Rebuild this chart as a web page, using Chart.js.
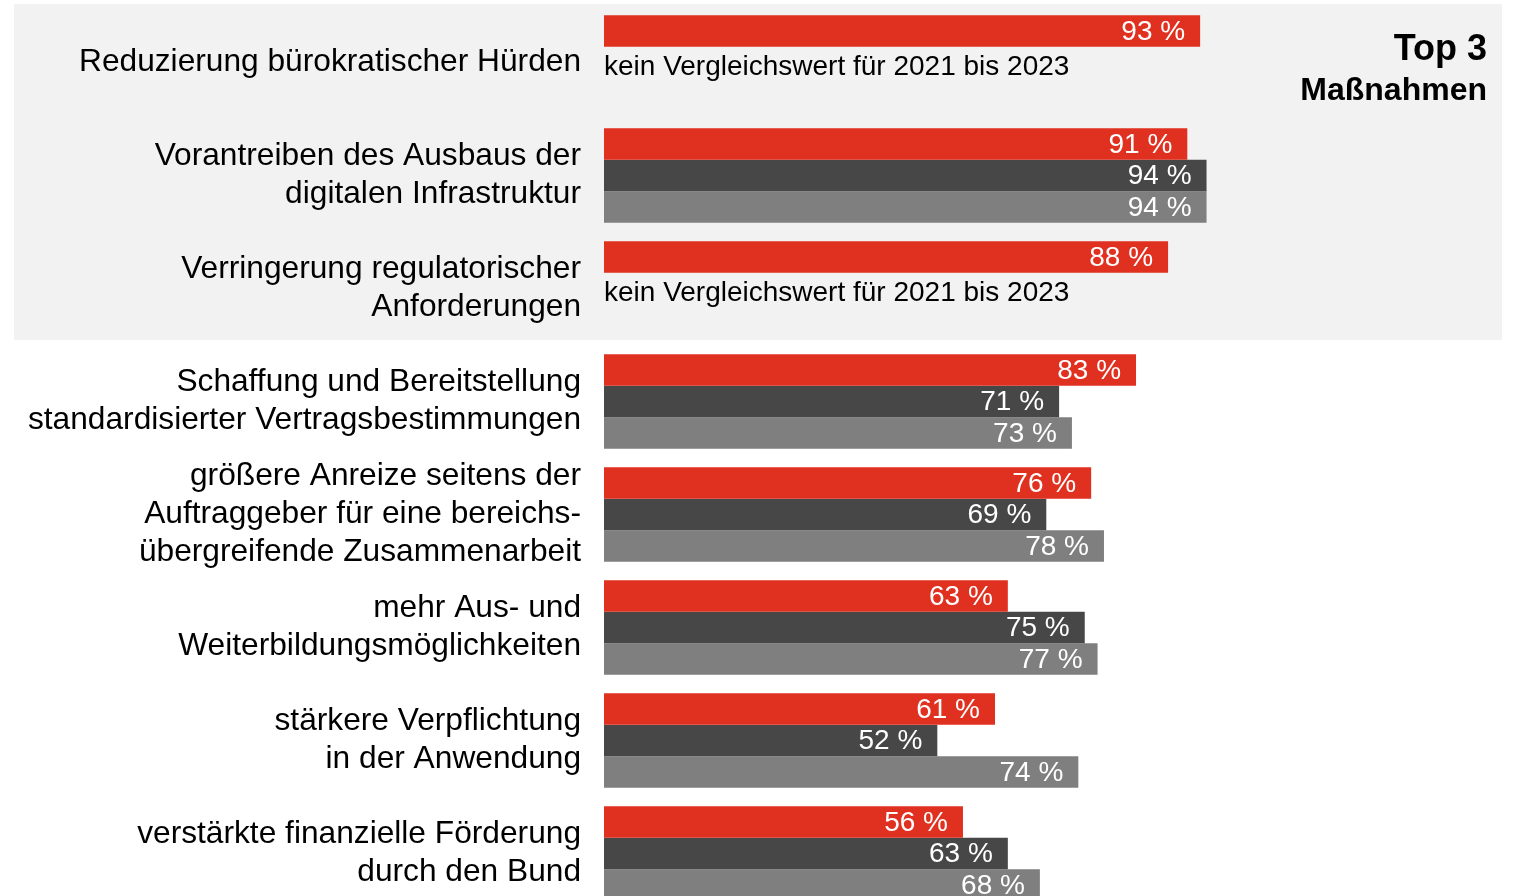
<!DOCTYPE html>
<html>
<head>
<meta charset="utf-8">
<script src="https://cdn.jsdelivr.net/npm/chart.js@4.4.1/dist/chart.umd.min.js"></script>
<style>
  html, body { margin: 0; padding: 0; background: #ffffff; overflow: hidden; }
  canvas { display: block; }
</style>
</head>
<body>
<canvas id="c" width="1514" height="912"></canvas>
<script>
const categories = [
  ["Reduzierung bürokratischer Hürden"],
  ["Vorantreiben des Ausbaus der", "digitalen Infrastruktur"],
  ["Verringerung regulatorischer", "Anforderungen"],
  ["Schaffung und Bereitstellung", "standardisierter Vertragsbestimmungen"],
  ["größere Anreize seitens der", "Auftraggeber für eine bereichs-", "übergreifende Zusammenarbeit"],
  ["mehr Aus- und", "Weiterbildungsmöglichkeiten"],
  ["stärkere Verpflichtung", "in der Anwendung"],
  ["verstärkte finanzielle Förderung", "durch den Bund"]
];
const series2024 = [93, 91, 88, 83, 76, 63, 61, 56];
const series2023 = [null, 94, null, 71, 69, 75, 52, 63];
const series2022 = [null, 94, null, 73, 78, 77, 74, 68];
const seriesNames = ["2024", "2023", "2021/2022"];
const notes = ["kein Vergleichswert für 2021 bis 2023", null, "kein Vergleichswert für 2021 bis 2023", null, null, null, null, null];
const topTitle = ["Top 3", "Maßnahmen"];
const highlightCount = 3;

const FONT = "'Liberation Sans', Arial, sans-serif";

const overlay = {
  id: 'overlay',
  beforeDraw(chart) {
    const ctx = chart.ctx;
    const y = chart.scales.y;
    const ca = chart.chartArea;
    const top = ca.top - 2;
    const bottom = (y.getPixelForValue(highlightCount - 1) + y.getPixelForValue(highlightCount)) / 2 - 5;
    ctx.save();
    ctx.fillStyle = '#F2F2F2';
    ctx.fillRect(14, top, chart.width - 12 - 14, bottom - top);
    ctx.restore();
  },
  afterDatasetsDraw(chart) {
    const ctx = chart.ctx;
    ctx.save();
    // value labels
    ctx.font = '28px ' + FONT;
    ctx.fillStyle = '#ffffff';
    ctx.textAlign = 'right';
    ctx.textBaseline = 'middle';
    chart.data.datasets.forEach((ds, di) => {
      const meta = chart.getDatasetMeta(di);
      meta.data.forEach((el, i) => {
        const v = ds.data[i];
        if (v === null || v === undefined) return;
        ctx.fillText(v + ' %', el.x - 15, el.y + 1);
      });
    });
    // notes
    ctx.fillStyle = '#000000';
    ctx.textAlign = 'left';
    const m0 = chart.getDatasetMeta(0);
    notes.forEach((n, i) => {
      if (!n) return;
      const el = m0.data[i];
      const y = el.y + el.height + 5;
      ctx.fillText(n, chart.chartArea.left, y);
    });
    // top-3 title
    ctx.textAlign = 'right';
    ctx.textBaseline = 'alphabetic';
    ctx.font = 'bold 36px ' + FONT;
    ctx.fillText(topTitle[0], 1487, 60);
    ctx.font = 'bold 32px ' + FONT;
    ctx.fillText(topTitle[1], 1487, 100);
    ctx.restore();
  }
};

new Chart(document.getElementById('c'), {
  type: 'bar',
  data: {
    labels: categories,
    datasets: [
      { label: seriesNames[0], data: series2024, backgroundColor: '#E03020' },
      { label: seriesNames[1], data: series2023, backgroundColor: '#474747' },
      { label: seriesNames[2], data: series2022, backgroundColor: '#7F7F7F' }
    ]
  },
  options: {
    indexAxis: 'y',
    responsive: false,
    animation: false,
    devicePixelRatio: 1,
    categoryPercentage: 0.836,
    barPercentage: 1.0,
    layout: { padding: { left: 0, right: 269, top: 6, bottom: 2 } },
    plugins: { legend: { display: false }, tooltip: { enabled: false } },
    scales: {
      x: { display: false, min: 0, max: 100 },
      y: {
        grid: { display: false, drawTicks: false },
        border: { display: false },
        ticks: {
          autoSkip: false,
          padding: 23,
          color: '#000000',
          font: { family: FONT, size: 31.7, lineHeight: 1.2 }
        },
        afterFit(scale) {
          scale.width = 604;
          scale.paddingTop = 0;
          scale.paddingBottom = 0;
        }
      }
    }
  },
  plugins: [overlay]
});
</script>
</body>
</html>
